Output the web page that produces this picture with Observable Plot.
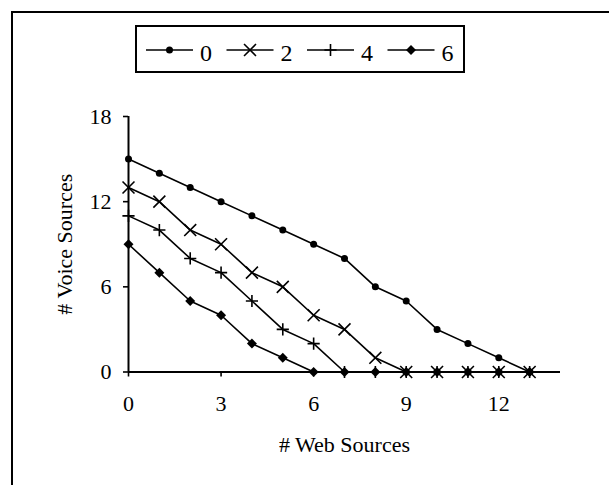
<!DOCTYPE html>
<html><head><meta charset="utf-8">
<script src="https://cdn.jsdelivr.net/npm/d3@7"></script>
<script src="https://cdn.jsdelivr.net/npm/@observablehq/plot@0.6"></script>
<style>
body{margin:0;background:#fff;}
#wrap{position:relative;width:609px;height:485px;overflow:hidden;font-family:"Liberation Serif","Times New Roman",serif;}
#frame{position:absolute;left:11px;top:11px;width:700px;height:600px;border-left:2px solid #000;border-top:2px solid #000;}
#chart{position:absolute;left:0;top:0;}
#legend{position:absolute;left:135px;top:25px;}
</style>
</head><body>
<div id="wrap"><div id="chart"></div><div id="frame"></div><div id="legend"></div></div>
<script>
// ---- data ----
const webSources = [0,1,2,3,4,5,6,7,8,9,10,11,12,13];
const seriesNames = ["0","2","4","6"];
const voice0 = [15,14,13,12,11,10,9,8,6,5,3,2,1,0];
const voice2 = [13,12,10,9,7,6,4,3,1,0,0,0,0,0];
const voice4 = [11,10,8,7,5,3,2,0,0,0,0,0,0,0];
const voice6 = [9,7,5,4,2,1,0,0,0,0,0,0,0,0];
const xTicks = [0,3,6,9,12];
const yTicks = [0,6,12,18];
const xTitle = "# Web Sources";
const yTitle = "# Voice Sources";

const seriesValues = [voice0, voice2, voice4, voice6];
const markers = [
  {symbol:"circle", r:3.5, fill:"black", stroke:"none", sw:0},
  {symbol:"times", r:5.5, fill:"none", stroke:"black", sw:1.6},
  {symbol:"plus", r:4.0, fill:"none", stroke:"black", sw:1.6},
  {symbol:"diamond2", r:4.5, fill:"black", stroke:"none", sw:0}
];

const rows = [];
seriesNames.forEach((s, i) => webSources.forEach((x, j) => rows.push({series:s, x, y:seriesValues[i][j]})));

const dotMarks = seriesNames.map((s, i) => Plot.dot(rows.filter(d => d.series === s), {
  x:"x", y:"y", symbol: () => markers[i].symbol, r: markers[i].r,
  fill: markers[i].fill, stroke: markers[i].stroke, strokeWidth: markers[i].sw
}));

const chart = Plot.plot({
  width: 609, height: 485,
  marginLeft: 128, marginRight: 49, marginTop: 116, marginBottom: 113.5,
  style: {fontFamily: '"Liberation Serif","Times New Roman",serif', fontSize: "22px", background: "transparent", color:"black"},
  x: {domain: [0, 14]},
  y: {domain: [0, 18]},
  symbol: {domain: markers.map(m => m.symbol), range: markers.map(m => m.symbol)},
  marks: [
    Plot.axisX({ticks: xTicks, tickSize: 5, tickPadding: 18, label: null, strokeWidth: 1.6, fontSize: 22}),
    Plot.axisY({ticks: yTicks, tickSize: 5, tickPadding: 12, label: null, strokeWidth: 1.6, fontSize: 22}),
    Plot.ruleX([0], {strokeWidth: 2}),
    Plot.ruleY([0], {strokeWidth: 2}),
    Plot.line(rows, {x:"x", y:"y", z:"series", stroke:"black", strokeWidth:1.6}),
    ...dotMarks,
    Plot.text([xTitle], {frameAnchor:"bottom", dy: 73, lineAnchor:"middle", fontSize: 22, fill:"black"}),
    Plot.text([yTitle], {frameAnchor:"left", dx: -64, rotate: -90, lineAnchor:"middle", textAnchor:"middle", fontSize: 22, fill:"black"})
  ]
});
document.getElementById("chart").appendChild(chart);

// ---- legend ----
const lw = 330, lh = 48;
const leg = d3.select("#legend").append("svg").attr("width", lw).attr("height", lh);
leg.append("rect").attr("x",1).attr("y",1).attr("width",lw-2).attr("height",lh-2)
  .attr("fill","white").attr("stroke","black").attr("stroke-width",2);
const symMap = {circle: d3.symbolCircle, times: d3.symbolTimes, plus: d3.symbolPlus, diamond2: d3.symbolDiamond2};
seriesNames.forEach((s, i) => {
  const x0 = 11 + i * 80.5;
  const g = leg.append("g");
  g.append("line").attr("x1", x0).attr("x2", x0 + 47).attr("y1", 25).attr("y2", 25)
    .attr("stroke","black").attr("stroke-width",1.6);
  const m = markers[i];
  g.append("path").attr("transform", `translate(${x0 + 23.5},25)`)
    .attr("d", d3.symbol(symMap[m.symbol], Math.PI * m.r * m.r)())
    .attr("fill", m.fill).attr("stroke", m.stroke).attr("stroke-width", m.sw);
  g.append("text").attr("x", x0 + 54).attr("y", 35.5).attr("font-size", 24)
    .attr("font-family", '"Liberation Serif","Times New Roman",serif').attr("fill","black").text(s);
});
</script>
</body></html>
